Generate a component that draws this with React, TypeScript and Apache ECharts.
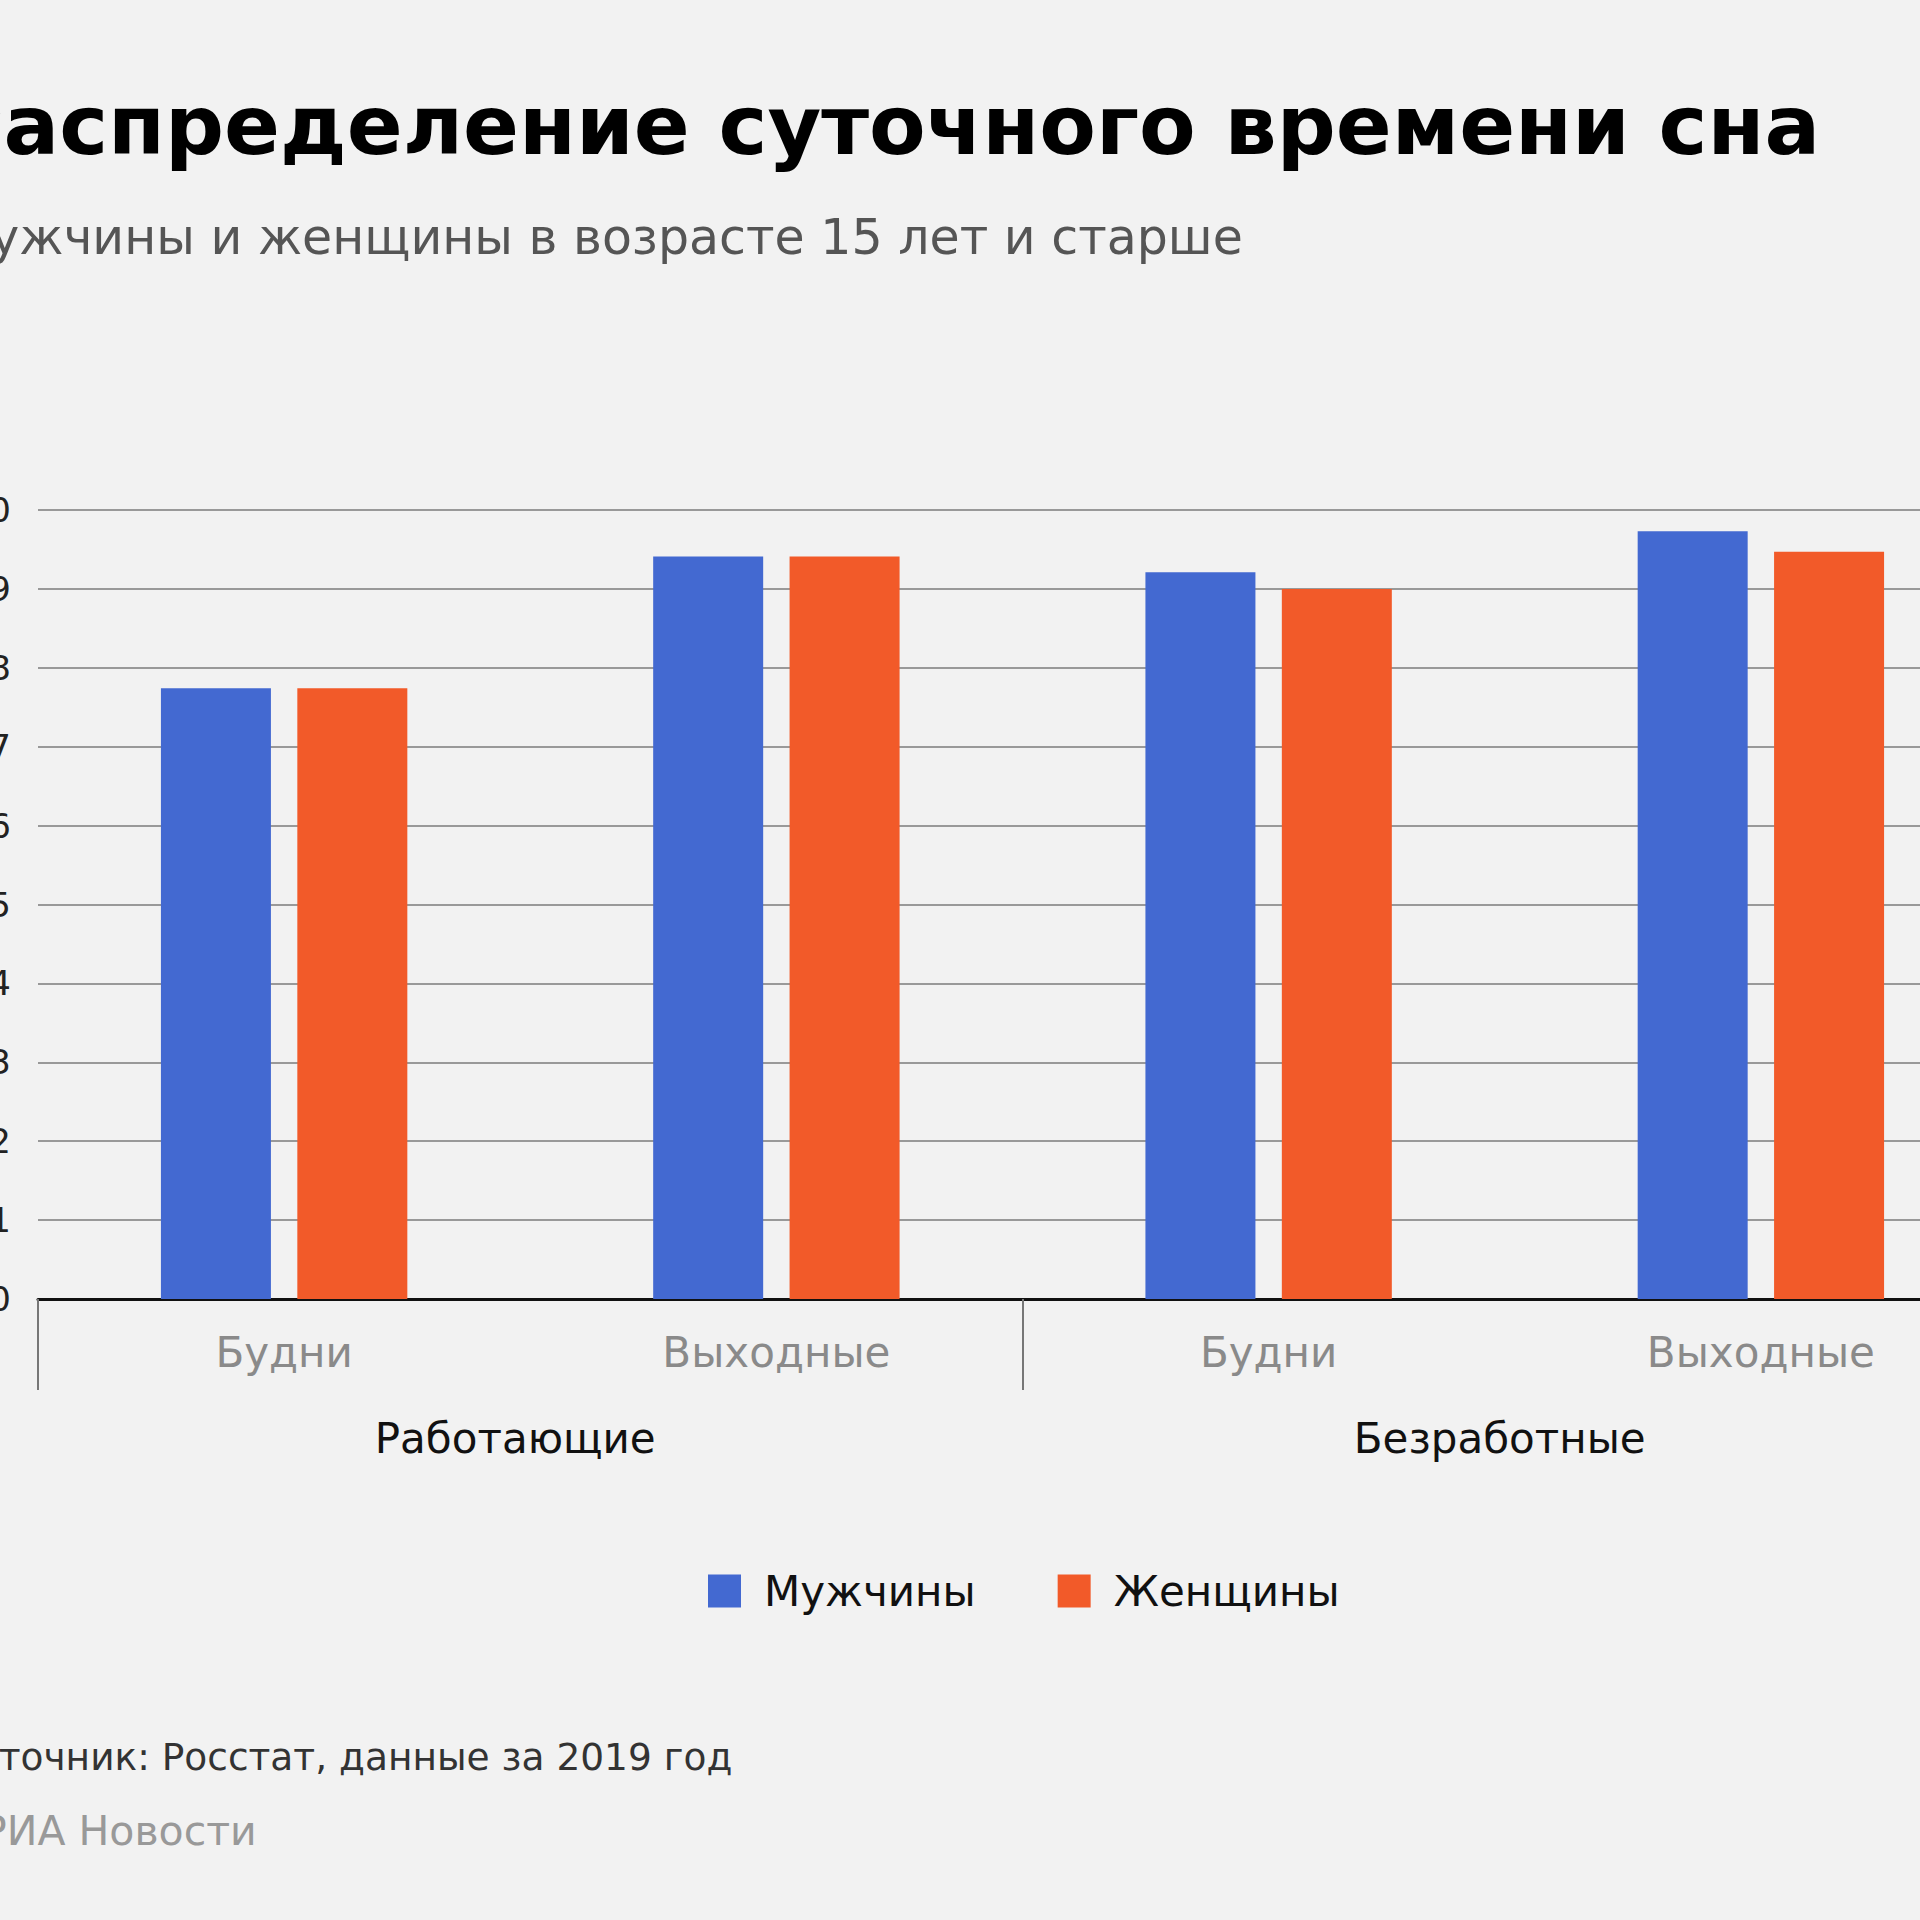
import React, { useEffect, useRef } from "react";
import * as echarts from "echarts";

const categories = ["Будни", "Выходные", "Будни", "Выходные"];
const groups = ["Работающие", "Безработные"];
const menValues = [7.74, 9.41, 9.21, 9.73];
const womenValues = [7.74, 9.41, 9.0, 9.47];
const seriesNames = ["Мужчины", "Женщины"];
const titleText = "Распределение суточного времени сна";
const subtitleText = "Мужчины и женщины в возрасте 15 лет и старше";
const sourceText = "Источник: Росстат, данные за 2019 год";
const brandText = "РИА Новости";

const FONT = "'DejaVu Sans', sans-serif";

export default function App() {
  const ref = useRef<HTMLDivElement>(null);
  useEffect(() => {
    if (!ref.current) return;
    const chart = echarts.init(ref.current, undefined, { renderer: "svg" });
    chart.setOption({
      animation: false,
      backgroundColor: "#f2f2f2",
      textStyle: { fontFamily: FONT },
      legend: {
        top: 1570,
        left: 708,
        icon: "rect",
        itemWidth: 33,
        itemHeight: 33,
        itemGap: 82,
        padding: 0,
        data: seriesNames,
        textStyle: { fontSize: 42, color: "#111", fontFamily: FONT, padding: [0, 0, 0, 18] },
      },
      grid: {
        left: 38,
        top: 510,
        width: 1969,
        height: 789,
        containLabel: false,
        outerBoundsMode: "none",
      },
      xAxis: [
        {
          type: "category",
          data: categories,
          axisLine: { show: true, lineStyle: { color: "#111", width: 3 } },
          axisTick: { show: false },
          axisLabel: { color: "#8a8a8a", fontSize: 42, margin: 32, fontFamily: FONT },
        },
        {
          type: "category",
          data: groups,
          position: "bottom",
          axisLine: { show: false },
          axisTick: { show: true, length: 91, interval: 0, lineStyle: { color: "#777", width: 2 } },
          axisLabel: {
            color: "#111",
            fontSize: 42,
            margin: 118,
            fontFamily: FONT,
            interval: 0,
            padding: [0, 30, 0, 0],
          },
          splitLine: { show: false },
        },
      ],
      yAxis: {
        type: "value",
        min: 0,
        max: 10,
        interval: 1,
        axisLine: { show: false },
        axisTick: { show: false },
        axisLabel: { color: "#222", fontSize: 34, margin: 27, fontFamily: FONT },
        splitLine: { lineStyle: { color: "#999", width: 2 } },
      },
      series: [
        {
          name: seriesNames[0],
          type: "bar",
          data: menValues,
          barWidth: 110,
          barGap: "24%",
          itemStyle: { color: "#4369D1" },
        },
        {
          name: seriesNames[1],
          type: "bar",
          data: womenValues,
          barWidth: 110,
          itemStyle: { color: "#F25A29" },
        },
      ],
      graphic: [
        {
          type: "text",
          x: -57,
          y: 125,
          style: {
            text: titleText,
            font: `bold 82.5px ${FONT}`,
            fill: "#000",
            textAlign: "left",
            textVerticalAlign: "middle",
          },
        },
        {
          type: "text",
          x: -52,
          y: 237,
          style: {
            text: subtitleText,
            font: `49px ${FONT}`,
            fill: "#555",
            textAlign: "left",
            textVerticalAlign: "middle",
          },
        },
        {
          type: "text",
          x: -50,
          y: 1757,
          style: {
            text: sourceText,
            font: `37.5px ${FONT}`,
            fill: "#333",
            textAlign: "left",
            textVerticalAlign: "middle",
          },
        },
        {
          type: "text",
          x: -18,
          y: 1831,
          style: {
            text: brandText,
            font: `41px ${FONT}`,
            fill: "#999",
            textAlign: "left",
            textVerticalAlign: "middle",
          },
        },
      ],
    });
    return () => chart.dispose();
  }, []);
  return (
    <div
      ref={ref}
      style={{ position: "fixed", left: 0, top: 0, width: 1920, height: 1920 }}
    />
  );
}
